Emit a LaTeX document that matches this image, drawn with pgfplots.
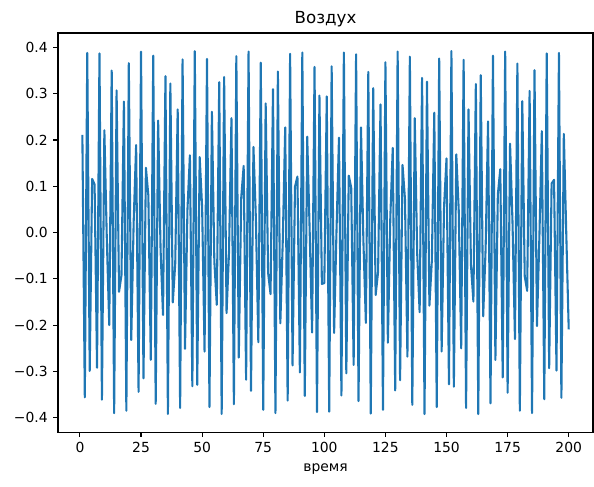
\documentclass[border=0pt]{standalone}
\usepackage{fontspec}
\setmainfont{DejaVu Sans}
\usepackage{pgfplots}
\pgfplotsset{compat=1.18}
\usepackage{pgfplotstable}
\usetikzlibrary{calc}

\definecolor{mplblue}{HTML}{1F77B4}

% sampled air signal: time step, amplitude
\pgfplotstableread{
t y
1 0.211
2 -0.356
3 0.388
4 -0.299
5 0.116
6 0.104
7 -0.292
8 0.387
9 -0.361
10 0.221
11 -0.013
12 -0.200
13 0.350
14 -0.390
15 0.307
16 -0.128
17 -0.092
18 0.283
19 -0.385
20 0.366
21 -0.232
22 0.025
23 0.189
24 -0.344
25 0.391
26 -0.315
27 0.140
28 0.080
29 -0.275
30 0.382
31 -0.370
32 0.242
33 -0.037
34 -0.178
35 0.338
36 -0.392
37 0.322
38 -0.151
39 -0.067
40 0.266
41 -0.379
42 0.374
43 -0.251
44 0.050
45 0.167
46 -0.332
47 0.392
48 -0.329
49 0.163
50 0.055
51 -0.257
52 0.375
53 -0.377
54 0.261
55 -0.062
56 -0.156
57 0.325
58 -0.392
59 0.336
60 -0.174
61 -0.043
62 0.247
63 -0.371
64 0.381
65 -0.270
66 0.075
67 0.144
68 -0.318
69 0.391
70 -0.342
71 0.185
72 0.030
73 -0.237
74 0.367
75 -0.383
76 0.279
77 -0.087
78 -0.133
79 0.310
80 -0.390
81 0.348
82 -0.196
83 -0.018
84 0.227
85 -0.363
86 0.386
87 -0.287
88 0.099
89 0.121
90 -0.302
91 0.389
92 -0.353
93 0.207
94 0.005
95 -0.216
96 0.358
97 -0.388
98 0.296
99 -0.111
100 -0.109
101 0.294
102 -0.387
103 0.359
104 -0.217
105 0.007
106 0.205
107 -0.352
108 0.389
109 -0.304
110 0.123
111 0.097
112 -0.286
113 0.385
114 -0.364
115 0.227
116 -0.020
117 -0.195
118 0.347
119 -0.391
120 0.312
121 -0.135
122 -0.085
123 0.277
124 -0.383
125 0.368
126 -0.238
127 0.032
128 0.183
129 -0.341
130 0.391
131 -0.319
132 0.146
133 0.072
134 -0.268
135 0.380
136 -0.372
137 0.247
138 -0.045
139 -0.172
140 0.334
141 -0.392
142 0.326
143 -0.158
144 -0.060
145 0.259
146 -0.377
147 0.376
148 -0.257
149 0.057
150 0.160
151 -0.328
152 0.392
153 -0.333
154 0.169
155 0.048
156 -0.250
157 0.373
158 -0.379
159 0.266
160 -0.070
161 -0.149
162 0.321
163 -0.392
164 0.340
165 -0.181
166 -0.035
167 0.240
168 -0.369
169 0.382
170 -0.275
171 0.082
172 0.137
173 -0.313
174 0.391
175 -0.346
176 0.192
177 0.023
178 -0.230
179 0.365
180 -0.385
181 0.284
182 -0.094
183 -0.126
184 0.306
185 -0.390
186 0.351
187 -0.202
188 -0.010
189 0.219
190 -0.360
191 0.387
192 -0.293
193 0.106
194 0.114
195 -0.298
196 0.388
197 -0.357
198 0.213
199 -0.002
200 -0.209
}\airdata

\begin{document}
\begin{tikzpicture}
\begin{axis}[
  scale only axis,
  width=385.2pt, height=287.3pt,
  xmin=-8.95, xmax=209.95,
  ymin=-0.431, ymax=0.431,
  xtick={0,25,...,200},
  ytick={-0.4,-0.3,-0.2,-0.1,0,0.1,0.2,0.3,0.4},
  yticklabels={−0.4,−0.3,−0.2,−0.1,0.0,0.1,0.2,0.3,0.4},
  tick pos=left,
  tick align=outside,
  major tick length=3.5pt,
  every tick/.style={black, line width=0.8pt},
  axis line style={line width=0.8pt},
  tick label style={font=\fontsize{10}{12}\selectfont},
  /pgf/number format/assume math mode=true,
  xticklabel style={yshift=-0.5pt},
  yticklabel style={xshift=-0.5pt},
  title={Воздух},
  title style={font=\fontsize{12}{14}\selectfont, yshift=-5pt},
  xlabel={время},
  xlabel style={font=\fontsize{10}{12}\selectfont, yshift=-0.5pt},
]
\addplot[mplblue, line width=1.5pt, line join=round] table[x=t, y=y] {\airdata};
\end{axis}
\pgfresetboundingbox
\path[use as bounding box]
  ($(current axis.south west)+(-41.8pt,-38.9pt)$)
  rectangle ($(current axis.north east)+(0.7pt,23.8pt)$);
\end{tikzpicture}
\end{document}
